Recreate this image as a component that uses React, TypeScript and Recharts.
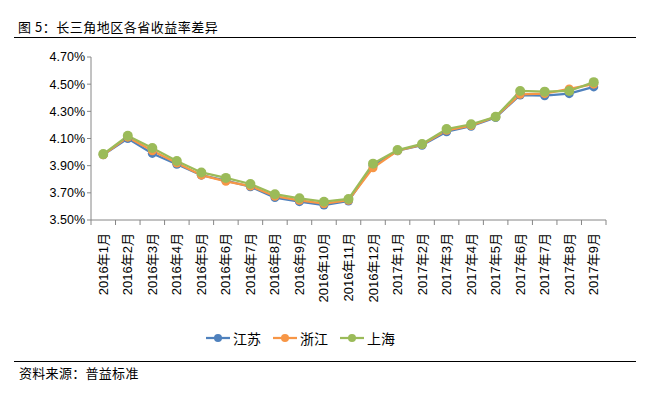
import React from 'react'
import { LineChart, Line, XAxis, YAxis } from 'recharts'

const months = [
  '2016年1月', '2016年2月', '2016年3月', '2016年4月', '2016年5月', '2016年6月', '2016年7月',
  '2016年8月', '2016年9月', '2016年10月', '2016年11月', '2016年12月', '2017年1月', '2017年2月',
  '2017年3月', '2017年4月', '2017年5月', '2017年6月', '2017年7月', '2017年8月', '2017年9月',
]
const jiangsu = [3.98, 4.10, 3.99, 3.91, 3.83, 3.79, 3.745, 3.665, 3.635, 3.61, 3.64, 3.90, 4.01, 4.05, 4.15, 4.19, 4.255, 4.42, 4.415, 4.43, 4.48]
const zhejiang = [3.98, 4.11, 4.01, 3.92, 3.83, 3.785, 3.75, 3.675, 3.645, 3.62, 3.645, 3.885, 4.01, 4.055, 4.16, 4.195, 4.26, 4.425, 4.43, 4.465, 4.50]
const shanghai = [3.985, 4.12, 4.03, 3.935, 3.85, 3.81, 3.765, 3.69, 3.66, 3.635, 3.655, 3.915, 4.015, 4.06, 4.17, 4.205, 4.26, 4.45, 4.445, 4.45, 4.515]
const yTicks = [3.5, 3.7, 3.9, 4.1, 4.3, 4.5, 4.7]

const series = [
  { key: 'jiangsu', name: '江苏', color: '#4F81BD' },
  { key: 'zhejiang', name: '浙江', color: '#F79646' },
  { key: 'shanghai', name: '上海', color: '#9BBB59' },
]

const data = months.map((m, i) => ({
  month: m,
  jiangsu: jiangsu[i],
  zhejiang: zhejiang[i],
  shanghai: shanghai[i],
}))

const W = 648
const H = 396
const LEFT = 91
const RIGHT = 42
const TOP = 57
const PLOT_BOTTOM = 220
const X_AXIS_H = 80
const STEP = (W - LEFT - RIGHT) / months.length
const AXIS_COLOR = '#868686'
const FONT = '"Liberation Sans", Arial, "Noto Sans CJK SC", sans-serif'
const CJK = '"Noto Sans CJK SC", sans-serif'

function MonthTick(props: any) {
  const { x, y, payload, index } = props
  const last = index === months.length - 1
  return (
    <g transform={`translate(${x},${y})`}>
      <line x1={-STEP / 2} y1={0} x2={-STEP / 2} y2={5} stroke={AXIS_COLOR} />
      {last && <line x1={STEP / 2} y1={0} x2={STEP / 2} y2={5} stroke={AXIS_COLOR} />}
      <text
        transform="rotate(-90)"
        x={-13}
        y={4.5}
        textAnchor="end"
        fontSize={13}
        fontFamily={FONT}
        fill="#000"
      >
        {payload.value}
      </text>
    </g>
  )
}

export default function App() {
  return (
    <div style={{ position: 'absolute', left: 0, top: 0, width: W, height: H, background: '#fff' }}>
      <div
        style={{
          position: 'absolute',
          left: 18,
          top: 17,
          fontSize: 13,
          letterSpacing: 0.5,
          fontFamily: CJK,
          color: '#000',
          whiteSpace: 'nowrap',
        }}
      >
        图 5：长三角地区各省收益率差异
      </div>
      <div style={{ position: 'absolute', left: 14, top: 37, width: 622, height: 0, borderTop: '1.5px solid #000' }} />
      <LineChart
        width={W}
        height={H}
        data={data}
        margin={{ top: TOP, right: RIGHT, left: 0, bottom: H - PLOT_BOTTOM - X_AXIS_H }}
      >
        <XAxis
          dataKey="month"
          interval={0}
          height={X_AXIS_H}
          padding={{ left: STEP / 2, right: STEP / 2 }}
          tickLine={false}
          tickSize={0}
          tickMargin={0}
          stroke={AXIS_COLOR}
          tick={<MonthTick />}
        />
        <YAxis
          width={LEFT}
          domain={[3.5, 4.7]}
          ticks={yTicks}
          tickFormatter={(v: number) => `${v.toFixed(2)}%`}
          stroke={AXIS_COLOR}
          tickSize={4}
          tick={{ fill: '#000', fontSize: 12.5, fontFamily: FONT }}
        />
        {series.map((s) => (
          <Line
            key={s.key}
            dataKey={s.key}
            name={s.name}
            stroke={s.color}
            strokeWidth={2.25}
            dot={{ r: s.key === 'shanghai' ? 5 : 4.5, fill: s.color, stroke: s.color, strokeWidth: 0 }}
            isAnimationActive={false}
          />
        ))}
      </LineChart>
      <div
        style={{
          position: 'absolute',
          left: 206,
          top: 328,
          display: 'flex',
          alignItems: 'center',
          fontSize: 14,
          fontFamily: CJK,
          color: '#000',
        }}
      >
        {series.map((s) => (
          <div key={s.key} style={{ display: 'flex', alignItems: 'center', marginRight: 12 }}>
            <svg width={24} height={12} style={{ marginRight: 3 }}>
              <line x1={0} y1={6} x2={24} y2={6} stroke={s.color} strokeWidth={2.25} />
              <circle cx={12} cy={6} r={4} fill={s.color} />
            </svg>
            <span>{s.name}</span>
          </div>
        ))}
      </div>
      <div style={{ position: 'absolute', left: 14, top: 361, width: 622, height: 0, borderTop: '1.5px solid #000' }} />
      <div
        style={{
          position: 'absolute',
          left: 19,
          top: 363,
          fontSize: 13,
          letterSpacing: 0.3,
          fontFamily: CJK,
          color: '#000',
          whiteSpace: 'nowrap',
        }}
      >
        资料来源：普益标准
      </div>
    </div>
  )
}
